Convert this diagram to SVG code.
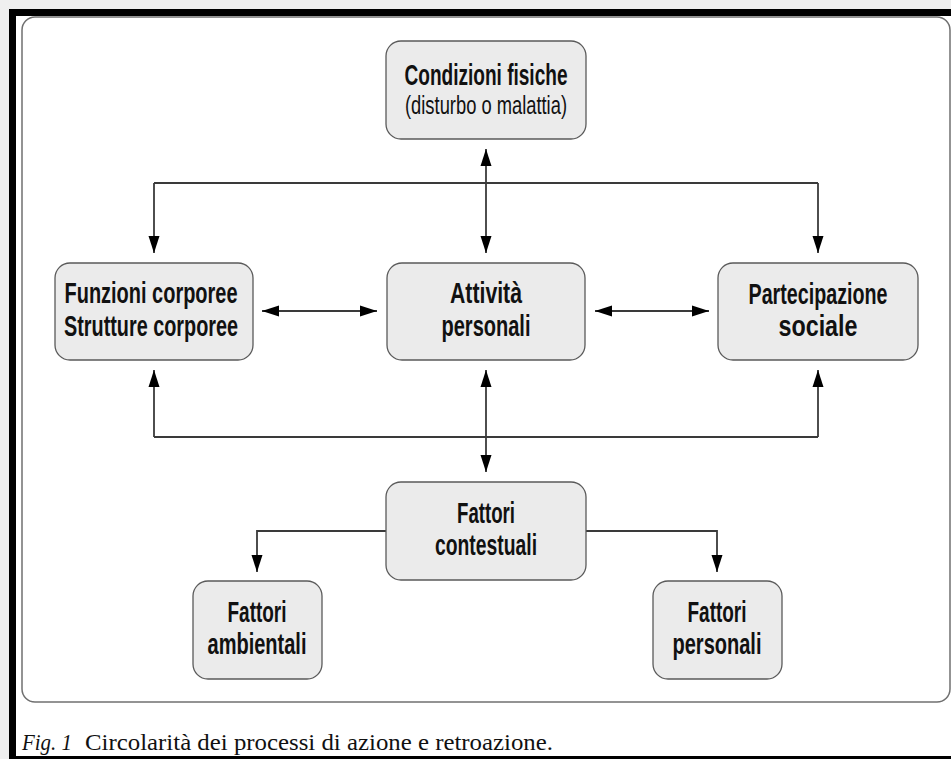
<svg xmlns="http://www.w3.org/2000/svg" width="951" height="759" viewBox="0 0 951 759">
<defs>
<style>
.box{fill:#ebebeb;stroke:#5a5a5a;stroke-width:1.3}
.t{font-family:"Liberation Sans",Arial,sans-serif;font-weight:bold;font-size:29px;fill:#111;text-anchor:middle}
.r{font-family:"Liberation Sans",Arial,sans-serif;font-weight:normal;font-size:26px;fill:#111;text-anchor:middle}
.ln{fill:none;stroke:#3a3a3a;stroke-width:1.8}
.cap{font-family:"Liberation Serif","Times New Roman",serif;font-size:24px;fill:#111}
</style>
<marker id="ah" markerUnits="userSpaceOnUse" markerWidth="18" markerHeight="12" refX="17" refY="6" orient="auto-start-reverse">
<path d="M0,0.5 L17,6 L0,11.5 Z" fill="#000"/>
</marker>
</defs>
<rect x="0" y="0" width="951" height="759" fill="#efefef"/>
<rect x="9" y="9" width="942" height="750" fill="#000"/>
<rect x="16" y="16" width="935" height="740" fill="#fff"/>
<rect x="22" y="17" width="928" height="685" rx="13" fill="#fff" stroke="#707070" stroke-width="1.5"/>

<g id="connectors">
<path class="ln" d="M154,183 H818"/>
<path class="ln" d="M154,183 V253" marker-end="url(#ah)"/>
<path class="ln" d="M818,183 V253" marker-end="url(#ah)"/>
<path class="ln" d="M486,149 V253" marker-start="url(#ah)" marker-end="url(#ah)"/>
<path class="ln" d="M154,437 H818"/>
<path class="ln" d="M154,437 V370" marker-end="url(#ah)"/>
<path class="ln" d="M818,437 V370" marker-end="url(#ah)"/>
<path class="ln" d="M486,370 V472" marker-start="url(#ah)" marker-end="url(#ah)"/>
<path class="ln" d="M262,311 H377" marker-start="url(#ah)" marker-end="url(#ah)"/>
<path class="ln" d="M595,311 H709" marker-start="url(#ah)" marker-end="url(#ah)"/>
<path class="ln" d="M386,531 H257 V572" marker-end="url(#ah)"/>
<path class="ln" d="M586,531 H717 V572" marker-end="url(#ah)"/>
</g>

<g id="condizioni">
<rect class="box" x="386" y="41" width="200" height="98" rx="15"/>
<text class="t" x="486" y="85" textLength="163" lengthAdjust="spacingAndGlyphs">Condizioni fisiche</text>
<text class="r" x="486" y="114" textLength="162" lengthAdjust="spacingAndGlyphs">(disturbo o malattia)</text>
</g>
<g id="funzioni">
<rect class="box" x="55" y="263" width="198" height="97" rx="15"/>
<text class="t" x="151" y="303" textLength="173" lengthAdjust="spacingAndGlyphs">Funzioni corporee</text>
<text class="t" x="151" y="336" textLength="174" lengthAdjust="spacingAndGlyphs">Strutture corporee</text>
</g>
<g id="attivita">
<rect class="box" x="387" y="263" width="198" height="97" rx="15"/>
<text class="t" x="486" y="303" textLength="72" lengthAdjust="spacingAndGlyphs">Attività</text>
<text class="t" x="486" y="336" textLength="89" lengthAdjust="spacingAndGlyphs">personali</text>
</g>
<g id="partecipazione">
<rect class="box" x="718" y="263" width="200" height="97" rx="15"/>
<text class="t" x="818" y="304" textLength="139" lengthAdjust="spacingAndGlyphs">Partecipazione</text>
<text class="t" x="818" y="336" textLength="79" lengthAdjust="spacingAndGlyphs">sociale</text>
</g>
<g id="contestuali">
<rect class="box" x="386" y="482" width="200" height="98" rx="15"/>
<text class="t" x="486" y="523" textLength="58" lengthAdjust="spacingAndGlyphs">Fattori</text>
<text class="t" x="486" y="555" textLength="102" lengthAdjust="spacingAndGlyphs">contestuali</text>
</g>
<g id="ambientali">
<rect class="box" x="193" y="581" width="129" height="98" rx="15"/>
<text class="t" x="257" y="622" textLength="59" lengthAdjust="spacingAndGlyphs">Fattori</text>
<text class="t" x="257" y="654" textLength="99" lengthAdjust="spacingAndGlyphs">ambientali</text>
</g>
<g id="personali">
<rect class="box" x="653" y="581" width="129" height="98" rx="15"/>
<text class="t" x="717" y="622" textLength="59" lengthAdjust="spacingAndGlyphs">Fattori</text>
<text class="t" x="717" y="654" textLength="89" lengthAdjust="spacingAndGlyphs">personali</text>
</g>

<text class="cap" x="22" y="750" font-style="italic" textLength="50" lengthAdjust="spacingAndGlyphs">Fig. 1</text>
<text class="cap" x="85" y="750" textLength="468" lengthAdjust="spacingAndGlyphs">Circolarità dei processi di azione e retroazione.</text>
</svg>
